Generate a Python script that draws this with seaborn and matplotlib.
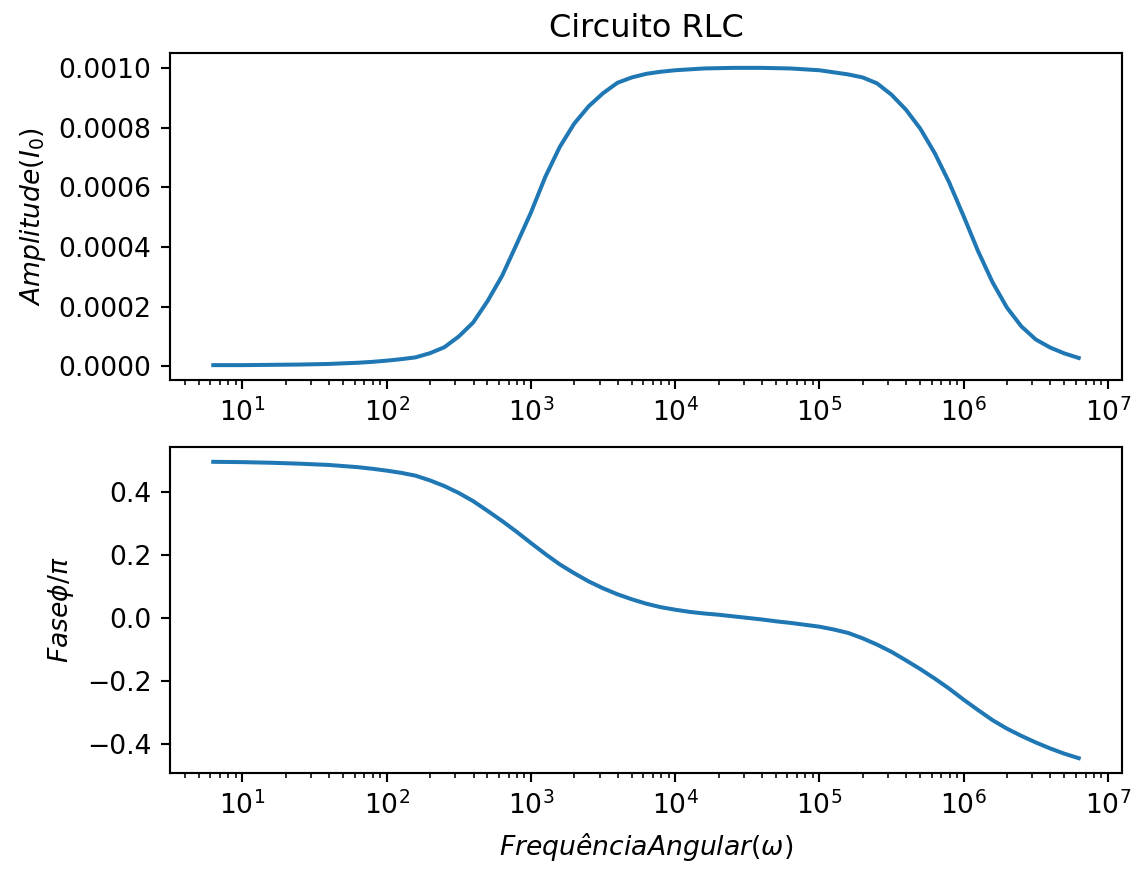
import matplotlib
matplotlib.use("Agg")
import matplotlib.pyplot as plt
import seaborn as sns

# angular frequency (rad/s)
omega = [6.28, 10, 15.85, 25.12, 39.81, 63.1, 79.43, 100, 125.9, 158.5, 199.5,
         251.2, 316.2, 398.1, 501.2, 631.0, 794.3, 1000, 1259, 1585, 1995,
         2512, 3162, 3981, 5012, 6310, 7943, 1.0e4, 1.259e4, 1.585e4, 1.995e4,
         2.512e4, 3.162e4, 3.981e4, 5.012e4, 6.31e4, 7.943e4, 1.0e5, 1.259e5,
         1.585e5, 1.995e5, 2.512e5, 3.162e5, 3.981e5, 5.012e5, 6.31e5,
         7.943e5, 1.0e6, 1.259e6, 1.585e6, 1.995e6, 2.512e6, 3.162e6,
         3.981e6, 5.012e6, 6.28e6]

# current amplitude I0
amplitude = [0.000004, 0.000004, 0.000005, 0.000006, 0.000008, 0.000012,
             0.000015, 0.000019, 0.000024, 0.000030, 0.000044, 0.000064,
             0.000100, 0.000147, 0.000219, 0.000303, 0.000408, 0.000515,
             0.000635, 0.000735, 0.000813, 0.000871, 0.000915, 0.000950,
             0.000968, 0.000980, 0.000987, 0.000992, 0.000995, 0.000998,
             0.000999, 0.001000, 0.001000, 0.001000, 0.000999, 0.000998,
             0.000995, 0.000992, 0.000985, 0.000978, 0.000968, 0.000948,
             0.000910, 0.000860, 0.000796, 0.000714, 0.000616, 0.000503,
             0.000386, 0.000282, 0.000197, 0.000134, 0.000090, 0.000063,
             0.000043, 0.000028]

# phase phi / pi
phase = [0.496, 0.495, 0.493, 0.490, 0.486, 0.479, 0.474, 0.468, 0.461, 0.452,
         0.437, 0.419, 0.397, 0.371, 0.340, 0.308, 0.274, 0.238, 0.203, 0.170,
         0.142, 0.116, 0.094, 0.075, 0.059, 0.045, 0.034, 0.026, 0.019, 0.014,
         0.010, 0.005, 0.000, -0.005, -0.011, -0.016, -0.022, -0.028, -0.037,
         -0.048, -0.065, -0.085, -0.108, -0.135, -0.163, -0.193, -0.225,
         -0.260, -0.293, -0.325, -0.352, -0.375, -0.396, -0.415, -0.432,
         -0.446]

DPI = 192
fig = plt.figure(figsize=(1132 / DPI, 871 / DPI), dpi=DPI)
ax1 = fig.add_axes([170 / 1132, 1 - 380 / 871, 952 / 1132, 327 / 871])
ax2 = fig.add_axes([170 / 1132, 1 - 773 / 871, 952 / 1132, 326 / 871])

line_color = "#1f77b4"
for ax, vals in ((ax1, amplitude), (ax2, phase)):
    ax.set_xscale("log")
    sns.lineplot(x=omega, y=vals, ax=ax, color=line_color, linewidth=1.5)

ax1.set_title("Circuito RLC")
ax1.set_ylabel(r"$Amplitude(I_0)$")
ax2.set_ylabel(r"$Fase \phi/\pi$")
ax2.set_xlabel(r"$Frequência Angular(\omega)$")

fig.savefig("out.png", dpi=DPI)
